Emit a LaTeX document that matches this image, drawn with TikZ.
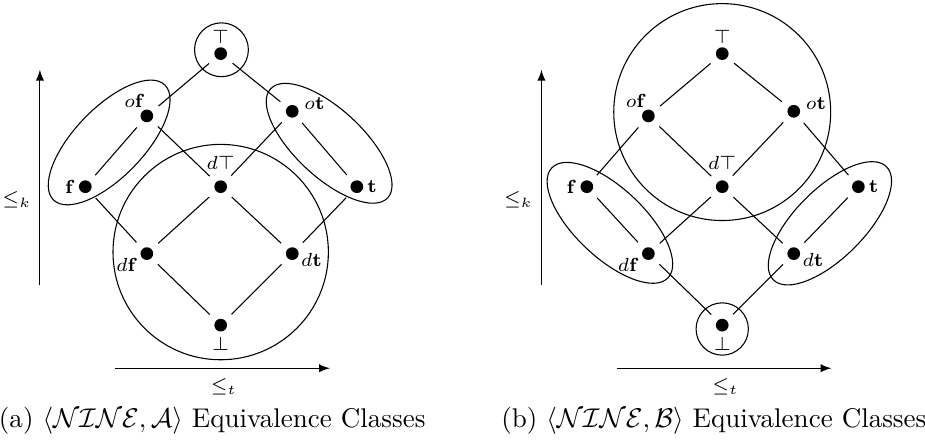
\documentclass[tikz,border=0pt]{standalone}
\usetikzlibrary{positioning}

\tikzset{
  dot/.style={circle,fill=black,inner sep=0pt,minimum size=4.7pt},
  link/.style={shorten <=3.1pt,shorten >=3.1pt},
  lbl/.style={inner sep=0pt,font=\scriptsize},
}

% the nine-valued lattice with its two orders
\newcommand{\ninelattice}{%
  \node[dot] (T) at (0,1.73) {};
  \node[dot] (of) at (-0.96,0.92) {};
  \node[dot] (ot) at (0.93,0.98) {};
  \node[dot] (f) at (-1.76,0) {};
  \node[dot] (dT) at (0,0) {};
  \node[dot] (t) at (1.77,0) {};
  \node[dot] (df) at (-0.96,-0.87) {};
  \node[dot] (dt) at (0.93,-0.87) {};
  \node[dot] (B) at (0,-1.80) {};
  \path[link] (T) edge (of) (T) edge (ot) (of) edge (f) (of) edge (dT)
    (ot) edge (dT) (ot) edge (t) (f) edge (df) (dT) edge (df)
    (dT) edge (dt) (t) edge (dt) (df) edge (B) (dt) edge (B);
  \node[lbl] (lT) at ([shift={(0,0.22)}]T) {$\top$};
  \node[lbl] (lof) at ([shift={(-0.16,0.20)}]of) {$o\mathbf{f}$};
  \node[lbl] (lot) at ([shift={(0.29,0.10)}]ot) {$o\mathbf{t}$};
  \node[lbl] (lf) at ([shift={(-0.20,0)}]f) {$\mathbf{f}$};
  \node[lbl] (ldT) at ([shift={(0,0.31)}]dT) {$d\top$};
  \node[lbl] (lt) at ([shift={(0.20,0)}]t) {$\mathbf{t}$};
  \node[lbl] (ldf) at ([shift={(-0.26,-0.15)}]df) {$d\mathbf{f}$};
  \node[lbl] (ldt) at ([shift={(0.25,-0.08)}]dt) {$d\mathbf{t}$};
  \node[lbl] (lB) at ([shift={(0,-0.25)}]B) {$\bot$};
  \coordinate (k0) at (-2.35,-1.28);
  \coordinate (k1) at (-2.35,1.52);
  \coordinate (t0) at (-1.37,-2.36);
  \coordinate (t1) at (1.42,-2.36);
  \draw[-latex] (k0) -- (k1);
  \draw[-latex] (t0) -- (t1);
  \node[lbl] (ordk) at (-2.65,-0.17) {$\leq_k$};
  \node[lbl] (ordt) at (0.04,-2.60) {$\leq_t$};
}

\begin{document}
\begin{tikzpicture}
\useasboundingbox (-2.869,-3.306) rectangle (9.156,2.427);
\begin{scope}[name prefix=a-]
\ninelattice
\draw (0.01,1.78) circle [radius=0.35];
\draw (0,-0.85) circle [radius=1.40];
\draw[rotate around={46:(-1.45,0.575)}] (-1.45,0.575) ellipse [x radius=1.04,y radius=0.45];
\draw[rotate around={-43:(1.41,0.564)}] (1.41,0.564) ellipse [x radius=1.04,y radius=0.44];
\node (cap) at (-0.11,-3.04) {(a) $\langle\mathcal{NINE},\mathcal{A}\rangle$ Equivalence Classes};
\end{scope}
\begin{scope}[shift={(6.52,0)},name prefix=b-]
\ninelattice
\draw (0,0.97) circle [radius=1.41];
\draw (0,-1.85) circle [radius=0.34];
\draw[rotate around={-43.4:(-1.46,-0.47)}] (-1.46,-0.47) ellipse [x radius=1.04,y radius=0.45];
\draw[rotate around={45:(1.40,-0.476)}] (1.40,-0.476) ellipse [x radius=1.04,y radius=0.45];
\node (cap) at (-0.11,-3.04) {(b) $\langle\mathcal{NINE},\mathcal{B}\rangle$ Equivalence Classes};
\end{scope}
\end{tikzpicture}
\end{document}
